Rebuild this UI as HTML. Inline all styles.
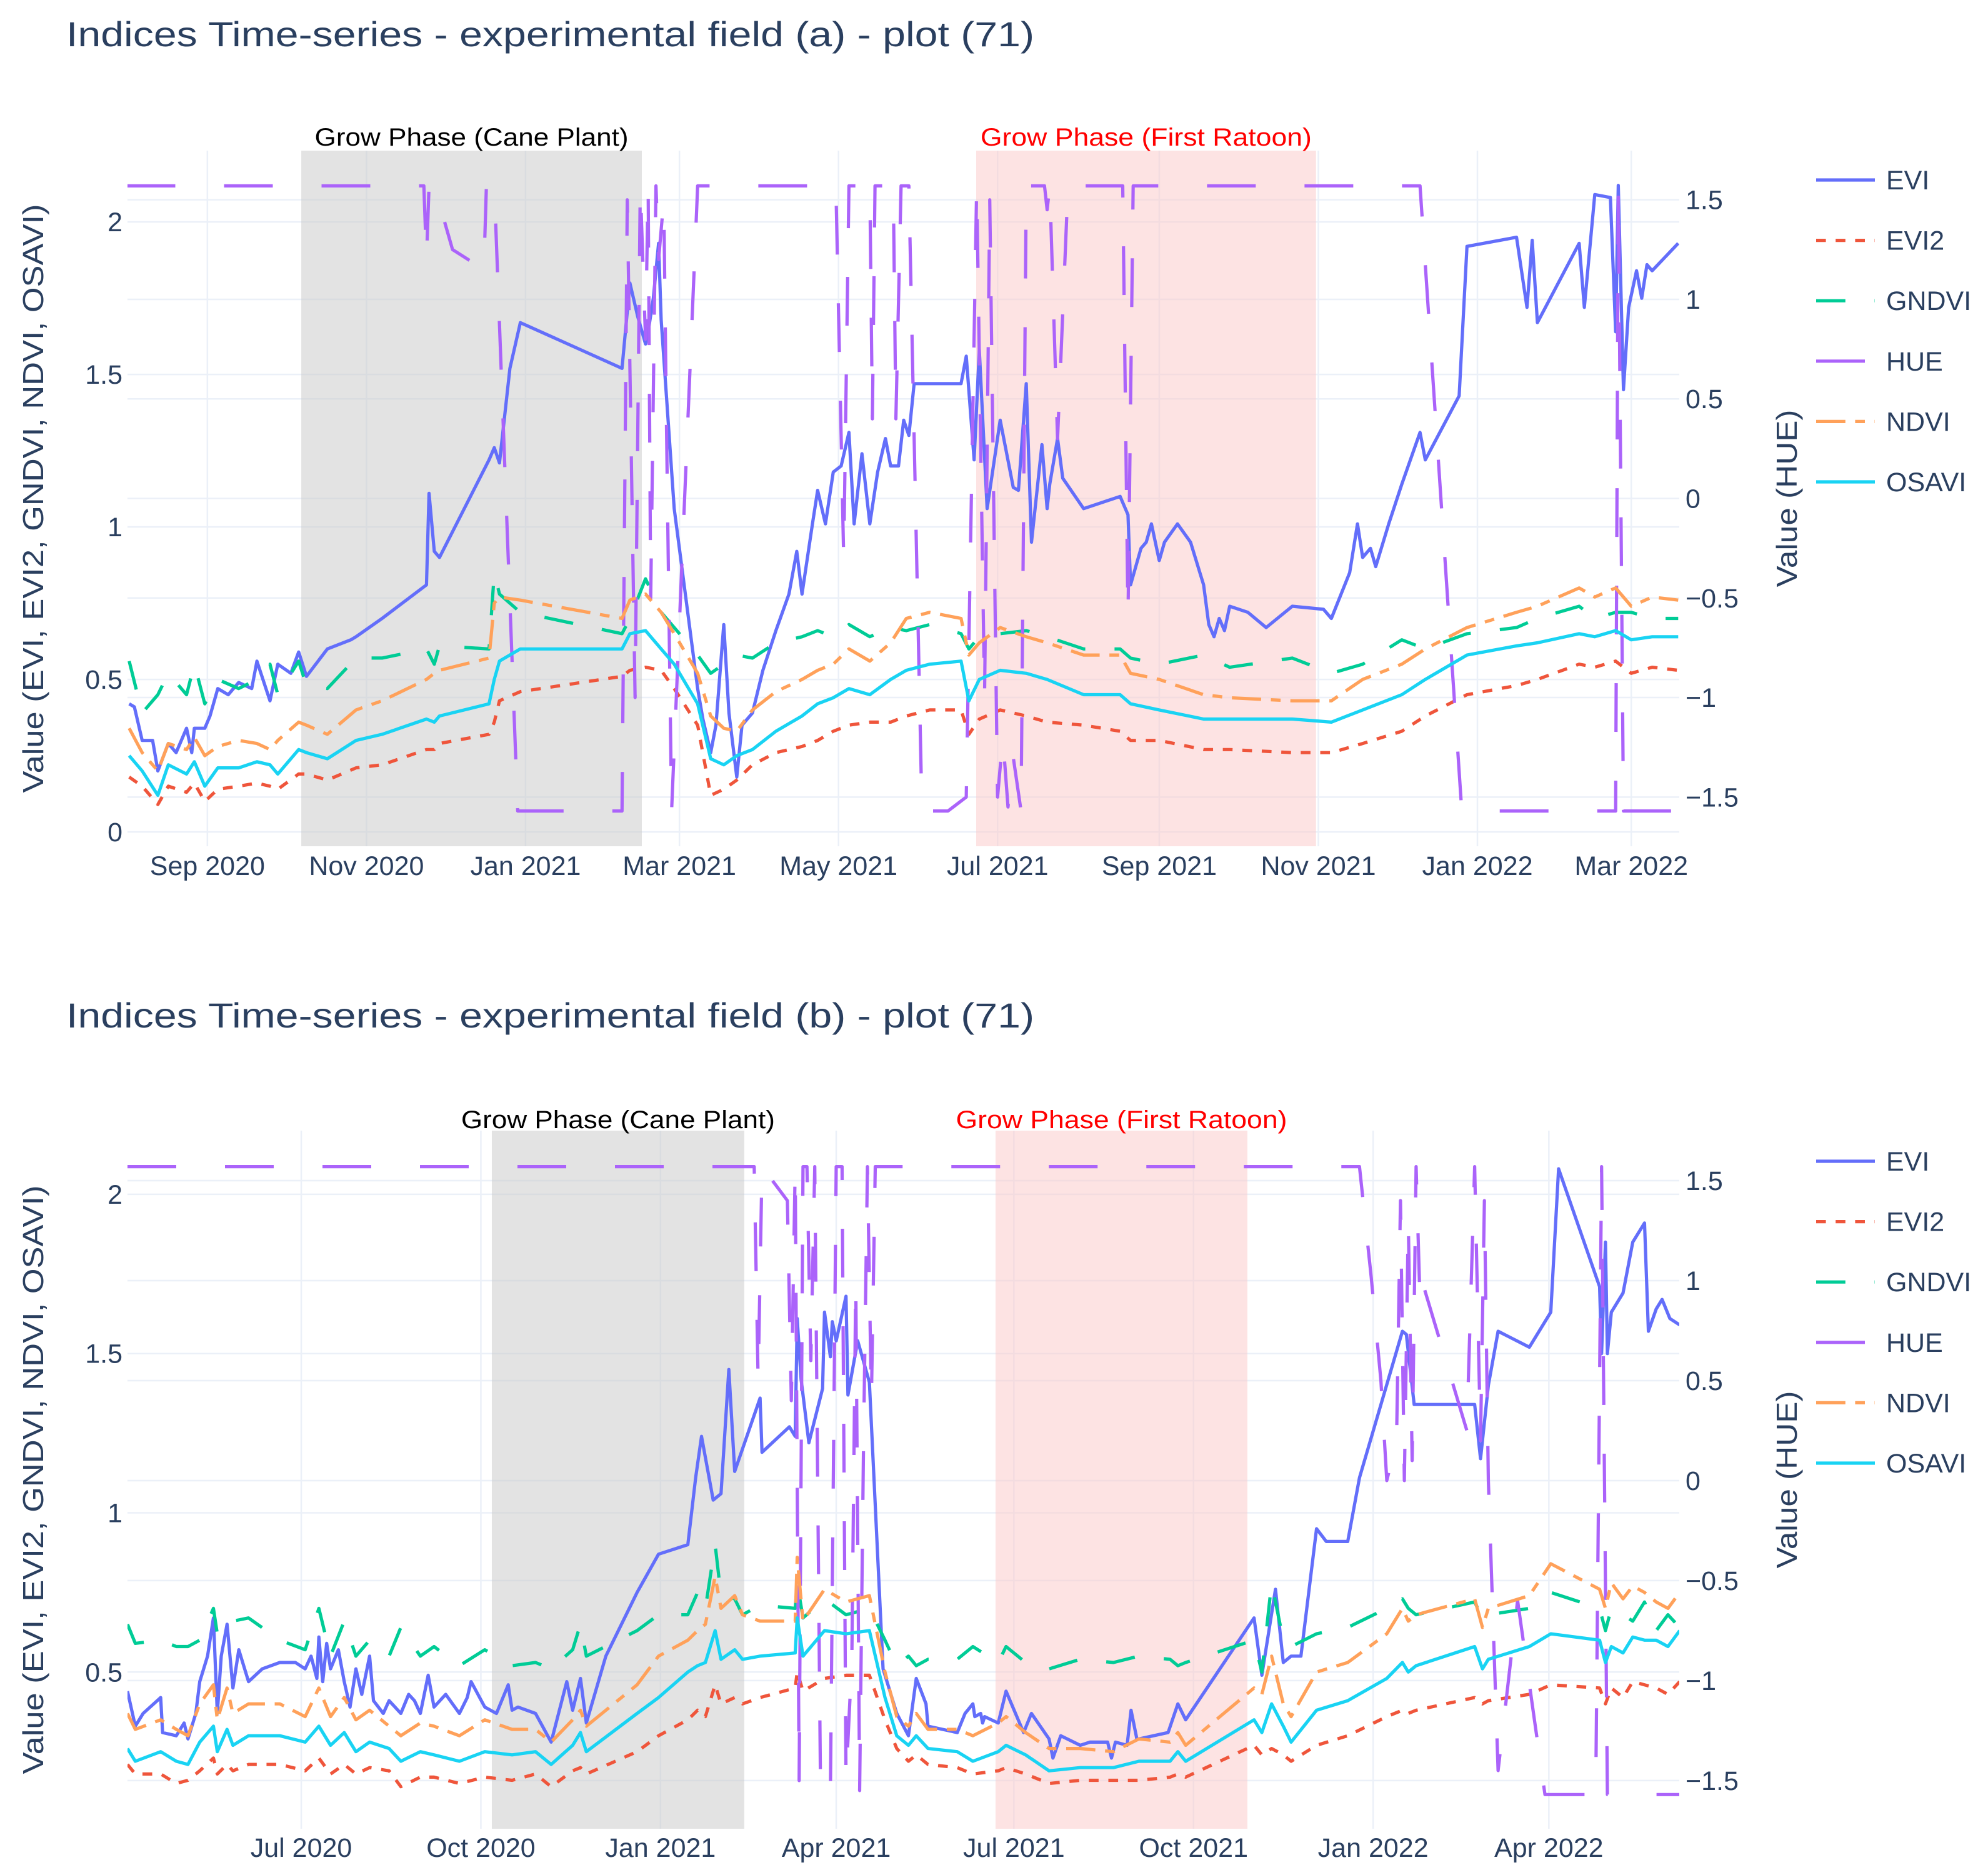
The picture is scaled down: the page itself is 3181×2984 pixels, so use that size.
<!DOCTYPE html>
<html><head><meta charset="utf-8"><style>
html,body{margin:0;padding:0;background:#fff;}
svg{display:block;font-family:"Liberation Sans",Arial,sans-serif;}
</style></head><body>
<svg id="root" width="3181" height="2984" viewBox="0 0 3181 2984" xmlns="http://www.w3.org/2000/svg">
<rect x="0" y="0" width="3181" height="2984" fill="#fff"/>
</svg>
<script>
// ===== TOP CHART DATA (days since 2020-08-01) =====
const topEviDays=[1,3,6,10,12,16,19,23,25,26,30,32,35,39,43,48,50,55,58,63,66,69,77,86,88,98,115,116,118,120,139,141,143,147,151,190,193,196,199,200,202,204,205,210,219,221,224,226,229,231,234,236,240,244,249,254,257,259,263,265,268,271,274,277,279,282,285,288,291,293,296,298,300,302,320,322,325,327,330,335,340,342,345,347,351,353,354,357,359,367,381,384,385,389,391,393,396,398,403,408,413,415,417,419,421,423,430,437,447,459,462,469,472,474,477,479,484,489,496,498,511,514,533,537,539,541,557,559,563,569,571,572,574,576,579,581,583,585,595];
const topEvi=[0.42,0.41,0.30,0.30,0.20,0.29,0.26,0.34,0.26,0.34,0.34,0.38,0.47,0.45,0.49,0.47,0.56,0.43,0.55,0.52,0.59,0.51,0.60,0.63,0.64,0.70,0.81,1.11,0.92,0.90,1.22,1.26,1.21,1.52,1.67,1.52,1.80,1.69,1.60,1.64,1.75,1.93,1.68,1.06,0.47,0.37,0.26,0.35,0.68,0.39,0.18,0.35,0.39,0.53,0.66,0.78,0.92,0.78,1.01,1.12,1.01,1.18,1.20,1.31,1.01,1.24,1.01,1.18,1.29,1.20,1.20,1.35,1.30,1.47,1.47,1.56,1.22,1.58,1.06,1.35,1.13,1.12,1.47,0.95,1.27,1.06,1.14,1.29,1.16,1.06,1.10,1.04,0.81,0.93,0.95,1.01,0.89,0.95,1.01,0.95,0.81,0.68,0.64,0.70,0.66,0.74,0.72,0.67,0.74,0.73,0.70,0.85,1.01,0.90,0.93,0.87,1.01,1.14,1.31,1.22,1.43,1.92,1.95,1.72,1.94,1.67,1.93,1.72,2.09,2.08,1.64,2.12,1.45,1.72,1.84,1.75,1.86,1.84,1.93];
const topHueDays=[0,114,115,116,118,125,137,138,141,150,190,192,195,197,199,200,201,203,204,206,207,209,219,272,275,277,285,286,287,294,295,297,300,305,315,322,326,329,331,334,336,338,340,343,345,352,353,354,357,361,382,384,386,496,512,571,572,574,595];
const topHue=[1.57,1.57,1.2,1.57,1.57,1.25,1.15,1.57,1.57,-1.57,-1.57,1.5,-1.0,1.57,0.8,1.57,-0.5,1.57,1.2,1.5,0.4,-1.57,1.57,1.57,-0.3,1.57,1.57,0.4,1.57,1.57,0.4,1.57,1.57,-1.57,-1.57,-1.5,1.57,-1.0,1.5,-1.5,-1.2,-1.55,-1.3,-1.57,1.57,1.57,1.45,1.57,0.3,1.57,1.57,-0.6,1.57,1.57,-1.57,-1.57,1.57,-1.57,-1.57];
const topIdxDays=[1,6,12,16,23,26,30,35,43,50,55,58,66,69,77,88,98,115,118,120,139,141,143,151,190,193,199,205,210,219,224,229,234,240,249,259,265,271,277,285,293,299,308,320,323,327,335,345,353,367,381,385,396,413,423,447,462,474,489,498,514,533,541,557,563,571,577,585,595];
const topGndvi=[0.56,0.39,0.45,0.52,0.45,0.55,0.42,0.50,0.47,0.50,0.55,0.45,0.56,0.48,0.47,0.57,0.57,0.60,0.55,0.61,0.60,0.85,0.78,0.72,0.65,0.70,0.83,0.72,0.67,0.58,0.52,0.55,0.58,0.57,0.62,0.64,0.66,0.64,0.68,0.64,0.67,0.66,0.68,0.65,0.60,0.64,0.65,0.66,0.64,0.60,0.60,0.57,0.55,0.58,0.54,0.57,0.52,0.55,0.63,0.60,0.65,0.67,0.70,0.74,0.70,0.72,0.72,0.70,0.70];
const topNdvi=[0.34,0.26,0.20,0.29,0.27,0.31,0.25,0.28,0.30,0.29,0.27,0.30,0.36,0.35,0.32,0.40,0.43,0.50,0.52,0.53,0.57,0.75,0.77,0.76,0.70,0.76,0.78,0.72,0.65,0.52,0.38,0.34,0.33,0.40,0.46,0.50,0.53,0.55,0.60,0.56,0.62,0.70,0.72,0.70,0.58,0.62,0.67,0.64,0.62,0.58,0.58,0.52,0.50,0.45,0.44,0.43,0.43,0.50,0.55,0.60,0.67,0.72,0.74,0.80,0.77,0.80,0.74,0.77,0.76];
const topOsavi=[0.25,0.20,0.12,0.22,0.19,0.23,0.15,0.21,0.21,0.23,0.22,0.19,0.27,0.26,0.24,0.30,0.32,0.37,0.36,0.38,0.42,0.50,0.56,0.60,0.60,0.65,0.66,0.60,0.55,0.42,0.24,0.22,0.25,0.27,0.33,0.38,0.42,0.44,0.47,0.45,0.50,0.53,0.55,0.56,0.43,0.50,0.53,0.52,0.50,0.45,0.45,0.42,0.40,0.37,0.37,0.37,0.36,0.40,0.45,0.50,0.58,0.61,0.62,0.65,0.64,0.66,0.63,0.64,0.64];
const topEvi2=[0.18,0.15,0.09,0.15,0.13,0.16,0.10,0.14,0.15,0.16,0.15,0.14,0.19,0.19,0.17,0.21,0.22,0.27,0.27,0.29,0.32,0.36,0.43,0.46,0.51,0.53,0.54,0.53,0.47,0.35,0.12,0.14,0.17,0.22,0.26,0.28,0.30,0.33,0.35,0.36,0.36,0.38,0.40,0.40,0.32,0.37,0.40,0.38,0.36,0.35,0.33,0.30,0.30,0.27,0.27,0.26,0.26,0.29,0.33,0.38,0.45,0.48,0.50,0.55,0.54,0.56,0.52,0.54,0.53];
const topTickDays=[31,92,153,212,273,334,396,457,518,577];
const topTickLabels=["Sep 2020","Nov 2020","Jan 2021","Mar 2021","May 2021","Jul 2021","Sep 2021","Nov 2021","Jan 2022","Mar 2022"];
const topShadeDays=[[67,197.6],[325.8,456.1]];

// ===== BOTTOM CHART DATA (days since 2020-04-03) =====
const botEviDays=[0,4,8,17,18,25,29,31,35,37,41,44,46,48,51,54,57,62,69,78,86,91,94,97,98,100,102,104,108,111,114,117,120,124,126,131,134,137,140,144,147,150,154,157,163,170,174,176,183,189,195,197,200,209,217,225,228,232,235,245,261,272,287,291,294,300,304,308,311,324,325,339,342,343,345,349,356,357,360,361,363,368,369,374,380,387,394,400,404,409,410,425,429,433,434,437,438,439,446,450,459,463,472,474,478,488,493,502,504,506,512,514,517,518,533,538,542,577,581,588,592,596,601,609,614,625,631,653,655,659,661,690,693,697,702,718,729,733,754,755,757,758,760,766,771,777,779,783,786,790,795];
const botEvi=[0.44,0.33,0.37,0.42,0.31,0.30,0.34,0.29,0.37,0.47,0.55,0.67,0.37,0.55,0.65,0.45,0.57,0.47,0.51,0.53,0.53,0.51,0.55,0.48,0.61,0.47,0.59,0.51,0.57,0.47,0.39,0.51,0.43,0.55,0.41,0.37,0.41,0.39,0.37,0.43,0.41,0.37,0.49,0.39,0.43,0.37,0.42,0.47,0.39,0.37,0.46,0.38,0.39,0.37,0.28,0.47,0.38,0.48,0.34,0.55,0.75,0.87,0.90,1.11,1.24,1.04,1.06,1.45,1.13,1.36,1.19,1.27,1.24,1.61,1.42,1.22,1.39,1.63,1.49,1.60,1.54,1.68,1.37,1.54,1.41,0.51,0.37,0.30,0.48,0.40,0.33,0.31,0.37,0.40,0.36,0.37,0.34,0.36,0.34,0.44,0.31,0.37,0.29,0.23,0.30,0.27,0.28,0.28,0.23,0.28,0.27,0.38,0.29,0.29,0.31,0.40,0.35,0.67,0.49,0.76,0.53,0.55,0.55,0.95,0.91,0.91,1.11,1.57,1.56,1.34,1.34,1.34,1.17,1.40,1.57,1.52,1.63,2.08,1.71,1.50,1.85,1.50,1.63,1.69,1.85,1.91,1.57,1.64,1.67,1.61,1.59];
const botHueDays=[0,321,323,325,338,340,342,344,346,348,350,352,355,360,363,366,368,371,373,375,377,379,381,383,631,637,642,645,650,652,654,656,658,660,662,663,686,690,693,695,697,702,712,726,752,755,758,795];
const botHue=[1.57,1.57,0.5,1.57,1.4,0.4,1.57,-1.5,1.57,1.57,0.6,1.57,-1.57,-1.57,1.57,1.57,-1.5,-0.9,1.0,-1.55,0.2,1.57,0.4,1.57,1.57,1.02,0.5,0.0,0.2,1.4,0.0,1.3,0.1,1.57,0.9,1.0,0.25,1.57,0.2,1.4,0.0,-1.45,-0.6,-1.57,-1.57,1.57,-1.57,-1.57];
const botIdxDays=[0,4,17,25,31,37,44,46,51,54,62,78,91,98,104,111,117,124,134,140,150,157,170,183,197,209,217,228,232,235,261,272,287,292,296,301,304,311,315,324,342,343,346,357,368,380,388,394,400,404,410,425,433,446,450,460,472,488,505,518,534,538,542,577,581,586,592,596,609,625,645,653,656,660,690,694,697,718,729,754,757,760,766,771,777,783,789,795];
const botGndvi=[0.65,0.59,0.60,0.58,0.58,0.60,0.70,0.62,0.62,0.66,0.67,0.60,0.57,0.70,0.55,0.66,0.55,0.60,0.55,0.64,0.55,0.58,0.52,0.57,0.52,0.53,0.51,0.57,0.65,0.55,0.63,0.68,0.68,0.75,0.70,0.90,0.74,0.73,0.68,0.71,0.70,0.78,0.67,0.73,0.68,0.70,0.60,0.52,0.55,0.52,0.54,0.54,0.58,0.53,0.58,0.53,0.51,0.54,0.53,0.55,0.54,0.52,0.53,0.60,0.50,0.78,0.60,0.58,0.62,0.64,0.70,0.73,0.70,0.68,0.72,0.67,0.68,0.70,0.75,0.70,0.63,0.70,0.68,0.66,0.72,0.63,0.68,0.64];
const botNdvi=[0.37,0.32,0.35,0.32,0.30,0.40,0.46,0.35,0.45,0.37,0.40,0.40,0.36,0.45,0.36,0.42,0.35,0.38,0.33,0.30,0.34,0.33,0.30,0.35,0.32,0.32,0.28,0.35,0.38,0.33,0.46,0.55,0.60,0.63,0.65,0.80,0.70,0.74,0.68,0.66,0.66,0.86,0.66,0.76,0.72,0.74,0.50,0.36,0.33,0.37,0.32,0.32,0.30,0.34,0.36,0.31,0.26,0.26,0.25,0.29,0.28,0.31,0.27,0.45,0.43,0.55,0.40,0.36,0.50,0.53,0.62,0.70,0.66,0.68,0.73,0.64,0.70,0.74,0.84,0.76,0.70,0.78,0.73,0.77,0.75,0.72,0.70,0.75];
const botOsavi=[0.26,0.22,0.25,0.22,0.21,0.28,0.33,0.25,0.32,0.27,0.30,0.30,0.28,0.33,0.27,0.31,0.25,0.28,0.26,0.22,0.25,0.24,0.22,0.25,0.24,0.25,0.21,0.27,0.31,0.25,0.37,0.42,0.50,0.52,0.53,0.63,0.54,0.57,0.54,0.55,0.56,0.67,0.55,0.63,0.62,0.63,0.42,0.30,0.27,0.30,0.26,0.25,0.22,0.25,0.27,0.24,0.19,0.20,0.20,0.22,0.22,0.25,0.22,0.35,0.31,0.40,0.33,0.28,0.38,0.41,0.48,0.53,0.50,0.52,0.58,0.51,0.54,0.58,0.62,0.60,0.53,0.58,0.56,0.61,0.60,0.60,0.58,0.63];
const botEvi2=[0.21,0.18,0.18,0.15,0.16,0.19,0.23,0.18,0.21,0.19,0.21,0.21,0.19,0.23,0.18,0.21,0.18,0.20,0.19,0.14,0.17,0.17,0.15,0.17,0.16,0.18,0.14,0.19,0.20,0.18,0.25,0.30,0.35,0.38,0.36,0.46,0.40,0.42,0.40,0.42,0.45,0.50,0.44,0.48,0.49,0.49,0.35,0.26,0.22,0.24,0.21,0.20,0.18,0.19,0.20,0.18,0.15,0.16,0.16,0.16,0.17,0.18,0.17,0.27,0.24,0.26,0.24,0.22,0.27,0.30,0.36,0.38,0.37,0.38,0.42,0.40,0.41,0.43,0.46,0.45,0.40,0.45,0.42,0.47,0.46,0.45,0.43,0.47];
const botTickDays=[89,181,273,363,454,546,638,728];
const botTickLabels=["Jul 2020","Oct 2020","Jan 2021","Apr 2021","Jul 2021","Oct 2021","Jan 2022","Apr 2022"];
const botShadeDays=[[186.6,315.9],[444.6,573.6]];

const leftTicks=[0,0.5,1,1.5,2];
const rightTicks=[-1.5,-1,-0.5,0,0.5,1,1.5];
const seriesNames=["EVI","EVI2","GNDVI","HUE","NDVI","OSAVI"];

const NS="http://www.w3.org/2000/svg";
const root=document.getElementById('root');
function mk(tag,attrs,parent){const e=document.createElementNS(NS,tag);for(const k in attrs)e.setAttribute(k,attrs[k]);(parent||root).appendChild(e);return e;}
const COLORS={EVI:"#636efa",EVI2:"#EF553B",GNDVI:"#00cc96",HUE:"#ab63fa",NDVI:"#FFA15A",OSAVI:"#19d3f3"};
const LW=5.2;
const DASH={EVI:"none",EVI2:(3*LW)+","+(3*LW),GNDVI:(9*LW)+","+(9*LW),HUE:(15*LW)+","+(15*LW),NDVI:(9*LW)+","+(3*LW)+","+(3*LW)+","+(3*LW),OSAVI:"none"};
const fmt=v=>v<0?"\u2212"+String(-v):String(v);

function drawChart(key,g){
  const grp=mk('g',{});
  
  
  const xs=d=>g.x0+(d-g.dMin)/(g.dMax-g.dMin)*(g.x1-g.x0);
  const yl=v=>g.y1-(v-g.lMin)/(g.lMax-g.lMin)*(g.y1-g.y0);
  const yr=v=>g.y1-(v-g.rMin)/(g.rMax-g.rMin)*(g.y1-g.y0);
  const t=mk('text',{x:106,y:g.titleY,'font-size':56,fill:'#2a3f5f',textLength:1549,lengthAdjust:'spacingAndGlyphs'},grp);
  t.textContent=g.title;
  
  
  const grid=mk('g',{stroke:'#ebf0f8','stroke-width':2.5},grp);
  
  
  g.ticks.forEach(d=>{mk('line',{x1:xs(d),x2:xs(d),y1:g.y0,y2:g.y1},grid);});
  leftTicks.forEach(v=>{if(v>=g.lMin&&v<=g.lMax)mk('line',{x1:g.x0,x2:g.x1,y1:yl(v),y2:yl(v)},grid);});
  rightTicks.forEach(v=>{mk('line',{x1:g.x0,x2:g.x1,y1:yr(v),y2:yr(v)},grid);});
  const fills=[['#c8c8c8','cane-plant-shade'],['rgb(252,200,200)','first-ratoon-shade']];
  g.shades.forEach((s,i)=>{
    const r=mk('rect',{x:xs(s[0]),y:g.y0,width:xs(s[1])-xs(s[0]),height:g.y1-g.y0,fill:fills[i][0],'fill-opacity':0.5},grp);
    
    
  });
  const ann=[["Grow Phase (Cane Plant)","#000",502],["Grow Phase (First Ratoon)","#ff0000",530]];
  g.shades.forEach((s,i)=>{
    const a=mk('text',{x:(xs(s[0])+xs(s[1]))/2,y:g.annY,'font-size':40,fill:ann[i][1],'text-anchor':'middle',textLength:ann[i][2],lengthAdjust:'spacingAndGlyphs'},grp);
    a.textContent=ann[i][0];
    
    
  });
  g.ticks.forEach((d,i)=>{
    const tx=mk('text',{x:xs(d),y:g.tickY,'font-size':43,fill:'#2a3f5f','text-anchor':'middle'},grp);
    tx.textContent=g.tickLabels[i];
    
    
  });
  leftTicks.forEach(v=>{
    if(v<g.lMin||v>g.lMax)return;
    const tx=mk('text',{x:196,y:yl(v)+15,'font-size':43,fill:'#2a3f5f','text-anchor':'end'},grp);
    tx.textContent=fmt(v);
    
    
  });
  rightTicks.forEach(v=>{
    const tx=mk('text',{x:2697,y:yr(v)+15,'font-size':43,fill:'#2a3f5f','text-anchor':'start'},grp);
    tx.textContent=fmt(v);
    
    
  });
  const cy=(g.y0+g.y1)/2;
  const lt=mk('text',{x:0,y:0,'font-size':46,fill:'#2a3f5f','text-anchor':'middle','dominant-baseline':'central',transform:`translate(53,${cy}) rotate(-90)`,textLength:942,lengthAdjust:'spacingAndGlyphs'},grp);
  lt.textContent="Value (EVI, EVI2, GNDVI, NDVI, OSAVI)";
  
  
  const rt=mk('text',{x:0,y:0,'font-size':46,fill:'#2a3f5f','text-anchor':'middle','dominant-baseline':'central',transform:`translate(2859,${cy}) rotate(-90)`,textLength:284,lengthAdjust:'spacingAndGlyphs'},grp);
  rt.textContent="Value (HUE)";
  
  
  const cp=mk('clipPath',{id:'clip-'+key},grp);
  mk('rect',{x:g.x0,y:g.y0,width:g.x1-g.x0,height:g.y1-g.y0},cp);
  const plot=mk('g',{'clip-path':`url(#clip-${key})`},grp);
  
  
  g.series.forEach(s=>{
    const ys=s.name==="HUE"?yr:yl;
    const n=Math.min(s.days.length,s.vals.length);
    let d="";
    for(let i=0;i<n;i++)d+=(i?"L":"M")+xs(s.days[i]).toFixed(1)+","+ys(s.vals[i]).toFixed(1);
    const p=mk('path',{d:d,fill:'none',stroke:COLORS[s.name],'stroke-width':LW,'stroke-dasharray':DASH[s.name],'stroke-linejoin':'round'},plot);
    
    
  });
  seriesNames.forEach((nm,i)=>{
    const ly=g.legY+i*96.6;
    const lg=mk('g',{},grp);
    
    
    mk('line',{x1:2906,x2:3000,y1:ly,y2:ly,stroke:COLORS[nm],'stroke-width':LW,'stroke-dasharray':DASH[nm]},lg);
    const tx=mk('text',{x:3018,y:ly+15,'font-size':43,fill:'#2a3f5f'},lg);
    tx.textContent=nm;
  });
}

drawChart('top',{title:"Indices Time-series - experimental field (a) - plot (71)",titleY:74,
  x0:204,x1:2687,y0:241,y1:1354,dMin:0.36,dMax:595.4,lMin:-0.047,lMax:2.234,rMin:-1.747,rMax:1.747,
  annY:233,tickY:1400,legY:288,ticks:topTickDays,tickLabels:topTickLabels,shades:topShadeDays,
  series:[{name:"EVI",days:topEviDays,vals:topEvi},{name:"EVI2",days:topIdxDays,vals:topEvi2},{name:"GNDVI",days:topIdxDays,vals:topGndvi},{name:"HUE",days:topHueDays,vals:topHue},{name:"NDVI",days:topIdxDays,vals:topNdvi},{name:"OSAVI",days:topIdxDays,vals:topOsavi}]});
drawChart('bottom',{title:"Indices Time-series - experimental field (b) - plot (71)",titleY:1644,
  x0:204,x1:2687,y0:1809,y1:2926,dMin:0,dMax:794.8,lMin:0.008,lMax:2.2,rMin:-1.741,rMax:1.75,
  annY:1805,tickY:2971,legY:1858,ticks:botTickDays,tickLabels:botTickLabels,shades:botShadeDays,
  series:[{name:"EVI",days:botEviDays,vals:botEvi},{name:"EVI2",days:botIdxDays,vals:botEvi2},{name:"GNDVI",days:botIdxDays,vals:botGndvi},{name:"HUE",days:botHueDays,vals:botHue},{name:"NDVI",days:botIdxDays,vals:botNdvi},{name:"OSAVI",days:botIdxDays,vals:botOsavi}]});
</script>
</body></html>
